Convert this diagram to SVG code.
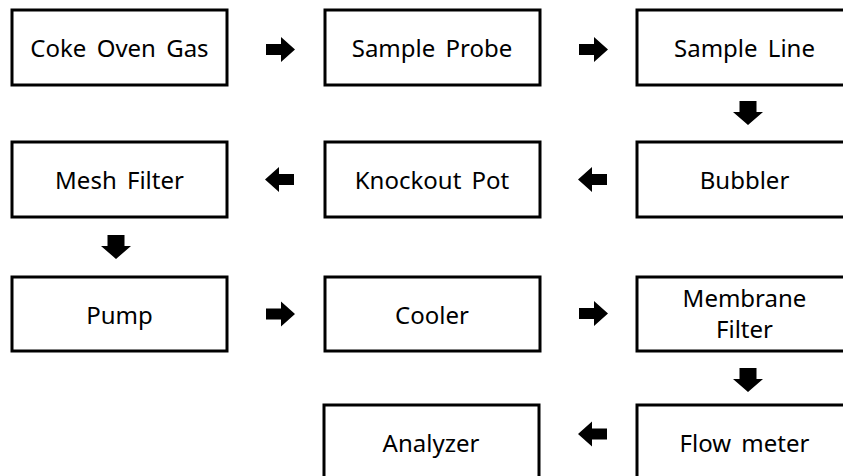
<svg xmlns="http://www.w3.org/2000/svg" width="843" height="476" viewBox="0 0 843 476">
<defs>
<style>
.box{fill:#fff;stroke:#000;stroke-width:3}
.t{font-family:"Noto Sans","Open Sans","DejaVu Sans",sans-serif;font-size:24px;word-spacing:4px;fill:#000;text-anchor:middle}
.a{fill:#000}
</style>
<path id="ar" d="M0,-5.5 H15 V-12.5 L29,0 L15,12.5 V5.5 H0 Z"/>
<path id="ad" d="M-8.5,0 H8.5 V11 H15 L0,24 L-15,11 H-8.5 Z"/>
</defs>
<rect width="843" height="476" fill="#fff"/>
<g id="n1"><rect class="box" x="12" y="10" width="215" height="75"/><text class="t" x="119.5" y="57">Coke Oven Gas</text></g>
<g id="n2"><rect class="box" x="325" y="10" width="215" height="75"/><text class="t" x="432" y="57">Sample Probe</text></g>
<g id="n3"><rect class="box" x="637" y="10" width="215" height="75"/><text class="t" x="744.5" y="57">Sample Line</text></g>
<g id="n4"><rect class="box" x="637" y="142" width="215" height="75"/><text class="t" x="744.5" y="189">Bubbler</text></g>
<g id="n5"><rect class="box" x="325" y="142" width="215" height="75"/><text class="t" x="432" y="189">Knockout Pot</text></g>
<g id="n6"><rect class="box" x="12" y="142" width="215" height="75"/><text class="t" x="119.5" y="189">Mesh Filter</text></g>
<g id="n7"><rect class="box" x="12" y="277" width="215" height="74"/><text class="t" x="119.5" y="324">Pump</text></g>
<g id="n8"><rect class="box" x="325" y="277" width="215" height="74"/><text class="t" x="432" y="324">Cooler</text></g>
<g id="n9"><rect class="box" x="637" y="277" width="215" height="74"/><text class="t" x="744.5" y="307">Membrane</text><text class="t" x="744.5" y="338">Filter</text></g>
<g id="n10"><rect class="box" x="637" y="405" width="215" height="75"/><text class="t" x="744.5" y="452">Flow meter</text></g>
<g id="n11"><rect class="box" x="324" y="405" width="215" height="75"/><text class="t" x="431" y="452">Analyzer</text></g>
<g id="connectors" class="a">
<use href="#ar" x="266" y="49.5"/>
<use href="#ar" x="579" y="49.5"/>
<use href="#ad" x="748" y="101"/>
<use href="#ar" transform="translate(607,179.5) scale(-1,1)"/>
<use href="#ar" transform="translate(294,179.5) scale(-1,1)"/>
<use href="#ad" x="116" y="235"/>
<use href="#ar" x="266" y="314"/>
<use href="#ar" x="579" y="313.5"/>
<use href="#ad" x="748" y="368"/>
<use href="#ar" transform="translate(607,434) scale(-1,1)"/>
</g>
</svg>
